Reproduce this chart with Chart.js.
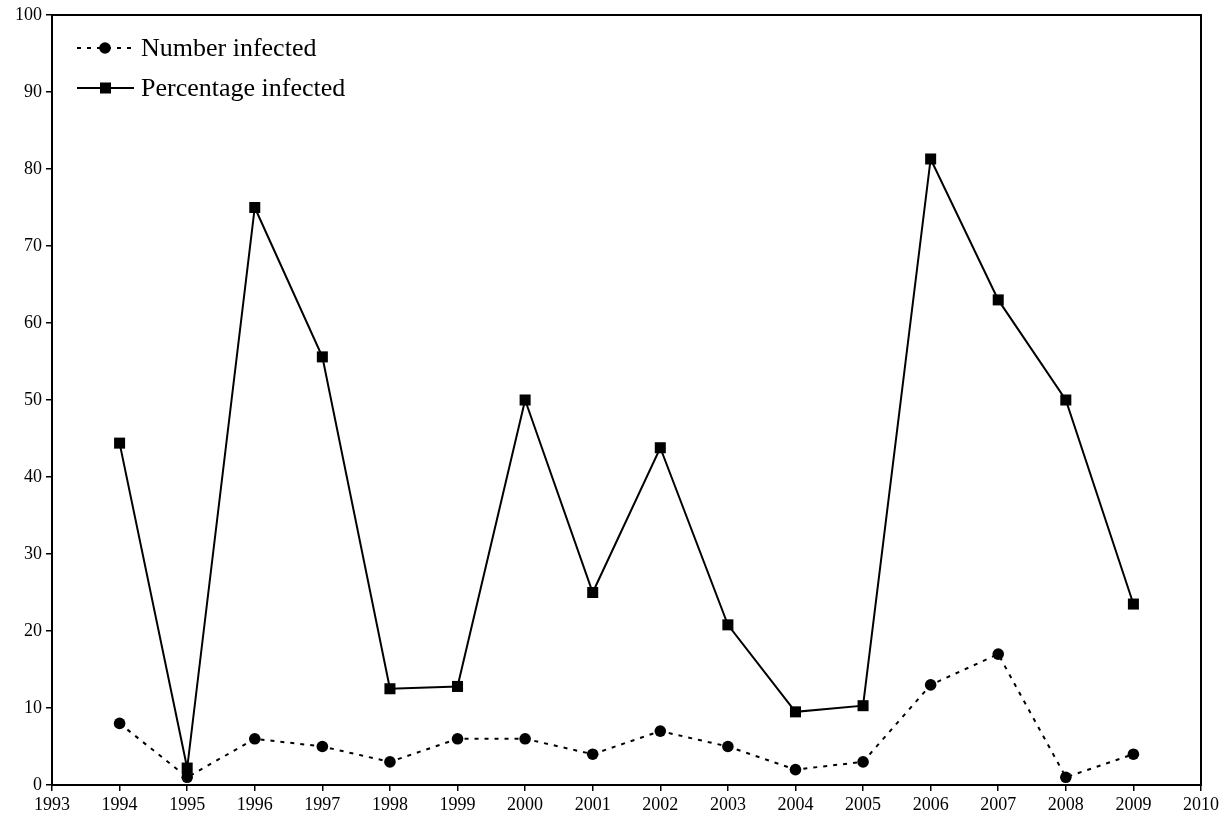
<!DOCTYPE html>
<html>
<head>
<meta charset="utf-8">
<script src="https://cdn.jsdelivr.net/npm/chart.js@4"></script>
<style>
  html, body { margin: 0; padding: 0; background: #fff; }
  #wrap { width: 1229px; height: 825px; position: relative; }
</style>
</head>
<body>
<div id="wrap"><canvas id="c" width="1229" height="825"></canvas></div>
<script>
const years = [1994, 1995, 1996, 1997, 1998, 1999, 2000, 2001, 2002, 2003, 2004, 2005, 2006, 2007, 2008, 2009];
const numberInfected = [8, 1, 6, 5, 3, 6, 6, 4, 7, 5, 2, 3, 13, 17, 1, 4];
const percentageInfected = [44.4, 2.2, 75.0, 55.6, 12.5, 12.8, 50.0, 25.0, 43.8, 20.8, 9.5, 10.3, 81.3, 63.0, 50.0, 23.5];
const seriesLabels = ["Number infected", "Percentage infected"];
const xMin = 1993, xMax = 2010;
const yMin = 0, yMax = 100, yStep = 10;

const FONT = "'Liberation Serif', 'Times New Roman', serif";

const frame = {
  id: 'frame',
  afterDraw(chart) {
    const { ctx, chartArea: a } = chart;
    ctx.save();
    ctx.strokeStyle = '#000';
    ctx.lineWidth = 2;
    ctx.strokeRect(a.left, a.top, a.right - a.left, a.bottom - a.top);
    // legend inside plot
    const items = [
      { label: seriesLabels[0], dash: [4, 6], style: 'circle', y: 48 },
      { label: seriesLabels[1], dash: [], style: 'rect', y: 88 }
    ];
    items.forEach((it) => {
      ctx.beginPath();
      ctx.setLineDash(it.dash);
      ctx.lineWidth = 2;
      ctx.moveTo(77, it.y);
      ctx.lineTo(134, it.y);
      ctx.stroke();
      ctx.setLineDash([]);
      ctx.fillStyle = '#000';
      if (it.style === 'circle') {
        ctx.beginPath();
        ctx.arc(105, it.y, 5.8, 0, Math.PI * 2);
        ctx.fill();
      } else {
        ctx.fillRect(100, it.y - 5.5, 11, 11);
      }
      ctx.font = '26px ' + FONT;
      ctx.textBaseline = 'middle';
      ctx.textAlign = 'left';
      ctx.fillText(it.label, 141, it.y + 1);
    });
    ctx.restore();
  }
};

new Chart(document.getElementById('c'), {
  type: 'line',
  data: {
    datasets: [
      {
        label: seriesLabels[0],
        data: years.map((y, i) => ({ x: y, y: numberInfected[i] })),
        borderColor: '#000',
        backgroundColor: '#000',
        borderWidth: 2,
        borderDash: [4, 6],
        pointStyle: 'circle',
        pointRadius: 5.8,
        pointBorderWidth: 0,
        tension: 0
      },
      {
        label: seriesLabels[1],
        data: years.map((y, i) => ({ x: y, y: percentageInfected[i] })),
        borderColor: '#000',
        backgroundColor: '#000',
        borderWidth: 2,
        pointStyle: 'rect',
        pointRadius: 7.8,
        pointBorderWidth: 0,
        tension: 0
      }
    ]
  },
  options: {
    responsive: false,
    animation: false,
    devicePixelRatio: 1,
    layout: { padding: { top: 15, right: 28, left: 0, bottom: 0 } },
    plugins: { legend: { display: false }, tooltip: { enabled: false } },
    scales: {
      x: {
        type: 'linear',
        min: xMin, max: xMax,
        afterFit(s) { s.height = 40; },
        border: { display: true, color: '#000', width: 2 },
        grid: { display: true, drawOnChartArea: false, drawTicks: true, tickLength: 6, color: '#000', lineWidth: 1.5 },
        ticks: {
          stepSize: 1, autoSkip: false, maxRotation: 0, color: '#000',
          font: { family: FONT, size: 18 }, padding: 3,
          callback: (v) => String(v)
        }
      },
      y: {
        type: 'linear',
        min: yMin, max: yMax,
        afterFit(s) { s.width = 52; },
        border: { display: true, color: '#000', width: 2 },
        grid: { display: true, drawOnChartArea: false, drawTicks: true, tickLength: 6, color: '#000', lineWidth: 1.5 },
        ticks: {
          stepSize: yStep, color: '#000',
          font: { family: FONT, size: 18 }, padding: 4
        }
      }
    }
  },
  plugins: [frame]
});
</script>
</body>
</html>
